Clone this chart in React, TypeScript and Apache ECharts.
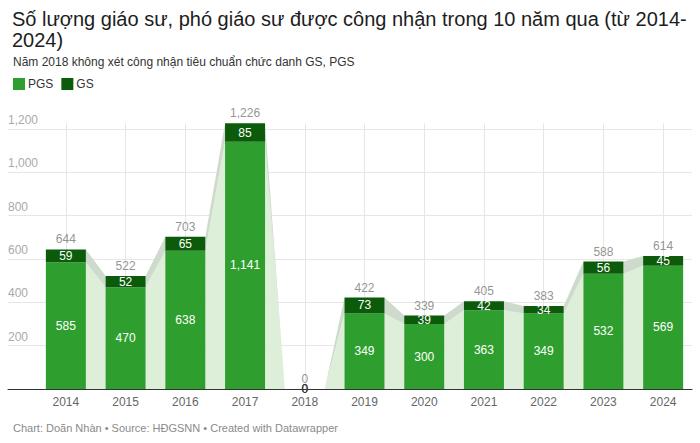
import React, { useEffect, useRef } from "react";
import * as echarts from "echarts";

const years = ["2014", "2015", "2016", "2017", "2018", "2019", "2020", "2021", "2022", "2023", "2024"];
const pgs = [585, 470, 638, 1141, 0, 349, 300, 363, 349, 532, 569];
const gs = [59, 52, 65, 85, 0, 73, 39, 42, 34, 56, 45];
const totals = [644, 522, 703, 1226, 0, 422, 339, 405, 383, 588, 614];
const yTicks = [0, 200, 400, 600, 800, 1000, 1200];

const FONT = "'Liberation Sans', Arial, Helvetica, sans-serif";
const C_PGS = "#2e9f2e";
const C_GS = "#0b5b0b";
const C_AREA = "#ddefd9";
const C_BAND = "#cedbcc";

const fmt = (v: number) => v.toLocaleString("en-US");

export default function App() {
  const ref = useRef<HTMLDivElement>(null);
  useEffect(() => {
    if (!ref.current) return;
    const chart = echarts.init(ref.current, null, { renderer: "svg" });
    const plotBottom = 54;
    const gridTop = 129;
    const scale = (443 - plotBottom - gridTop) / 1200;
    const barTop = 443 - plotBottom - 1226 * scale;
    const half = 20;
    const option: any = {
      animation: false,
      backgroundColor: "#ffffff",
      textStyle: { fontFamily: FONT },
      title: [
        {
          text: "Số lượng giáo sư, phó giáo sư được công nhận trong 10 năm qua (từ 2014-\n2024)",
          left: 7,
          top: 3,
          textStyle: { fontFamily: FONT, fontSize: 20, fontWeight: "normal", color: "#1d1d1d", lineHeight: 21 },
        },
        {
          text: "Năm 2018 không xét công nhận tiêu chuẩn chức danh GS, PGS",
          left: 8,
          top: 51,
          textStyle: { fontFamily: FONT, fontSize: 12, fontWeight: "normal", color: "#333" },
        },
        {
          text: "Chart: Doãn Nhàn • Source: HĐGSNN • Created with Datawrapper",
          left: 8,
          top: 417,
          textStyle: { fontFamily: FONT, fontSize: 11, fontWeight: "normal", color: "#8a8a8a" },
        },
      ],
      legend: {
        left: 8,
        top: 73,
        data: ["PGS", "GS"],
        icon: "rect",
        itemWidth: 12,
        itemHeight: 12,
        itemGap: 8,
        textStyle: { fontFamily: FONT, fontSize: 12, color: "#333", padding: [0, 0, 0, -2] },
      },
      grid: [
        { left: 8, right: 8, top: gridTop, bottom: plotBottom },
        { left: 36, right: 7, top: barTop, bottom: plotBottom },
      ],
      xAxis: [
        {
          gridIndex: 0,
          type: "value",
          min: 0,
          max: 1,
          axisLine: { show: true, lineStyle: { color: "#333", width: 1 } },
          axisTick: { show: false },
          axisLabel: { show: false },
          splitLine: { show: false },
        },
        {
          gridIndex: 1,
          type: "category",
          data: years,
          axisLine: { show: false },
          axisTick: { show: false },
          axisLabel: { color: "#666", fontSize: 12, fontFamily: FONT, margin: 7 },
          splitLine: { show: false },
        },
      ],
      yAxis: [
        {
          gridIndex: 0,
          type: "value",
          min: 0,
          max: 1200,
          interval: 200,
          axisLine: { show: false },
          axisTick: { show: false },
          splitLine: { show: true, lineStyle: { color: "#e6e6e6", width: 1 } },
          axisLabel: {
            inside: true,
            margin: 0,
            verticalAlign: "bottom",
            padding: [0, 0, 3, 0],
            color: "#aaa",
            fontSize: 12,
            fontFamily: FONT,
            formatter: (v: number) => (yTicks.includes(v) && v !== 0 ? fmt(v) : ""),
          },
        },
        {
          gridIndex: 1,
          type: "value",
          min: 0,
          max: 1226,
          show: false,
          splitLine: { show: false },
        },
      ],
      series: [
        {
          type: "line",
          xAxisIndex: 1,
          yAxisIndex: 1,
          z: 0,
          data: years.map(() => null),
          showSymbol: false,
          markLine: {
            silent: true,
            z: 0,
            zlevel: 0,
            symbol: "none",
            label: { show: false },
            lineStyle: { color: "#e6e6e6", type: "solid", width: 1 },
            data: years.map((y) => ({ xAxis: y })),
          },
        },
        {
          type: "custom",
          xAxisIndex: 1,
          yAxisIndex: 1,
          z: 1,
          silent: true,
          encode: { x: 0, y: 1 },
          data: years.slice(0, -1).map((_, i) => [i, pgs[i], totals[i], pgs[i + 1], totals[i + 1]]),
          renderItem: (params: any, api: any) => {
            const i = api.value(0);
            const a0 = api.coord([i, 0]);
            const b0 = api.coord([i + 1, 0]);
            const xr = a0[0] + half;
            const xl = b0[0] - half;
            const yb = a0[1];
            const ya1 = api.coord([i, api.value(1)])[1];
            const ya2 = api.coord([i, api.value(2)])[1];
            const yb1 = api.coord([i + 1, api.value(3)])[1];
            const yb2 = api.coord([i + 1, api.value(4)])[1];
            return {
              type: "group",
              children: [
                {
                  type: "polygon",
                  shape: { points: [[xr, yb], [xr, ya1], [xl, yb1], [xl, yb]] },
                  style: { fill: C_AREA },
                },
                {
                  type: "polygon",
                  shape: { points: [[xr, ya1], [xr, ya2], [xl, yb2], [xl, yb1]] },
                  style: { fill: C_BAND },
                },
              ],
            };
          },
        },
        {
          name: "PGS",
          type: "bar",
          xAxisIndex: 1,
          yAxisIndex: 1,
          stack: "t",
          z: 3,
          barWidth: 40,
          itemStyle: { color: C_PGS },
          label: {
            show: true,
            position: "inside",
            color: "#fff",
            fontSize: 12,
            fontFamily: FONT,
            formatter: (p: any) => fmt(p.value),
          },
          data: pgs.map((v) => (v === 0 ? { value: v, label: { color: "#333" } } : v)),
        },
        {
          name: "GS",
          type: "bar",
          xAxisIndex: 1,
          yAxisIndex: 1,
          stack: "t",
          z: 3,
          barWidth: 40,
          itemStyle: { color: C_GS },
          label: {
            show: true,
            position: "inside",
            color: "#fff",
            fontSize: 12,
            fontFamily: FONT,
            formatter: (p: any) => fmt(p.value),
          },
          data: gs.map((v) => (v === 0 ? { value: v, label: { color: "#333" } } : v)),
        },
        {
          type: "scatter",
          xAxisIndex: 1,
          yAxisIndex: 1,
          z: 4,
          symbolSize: 0,
          silent: true,
          label: {
            show: true,
            position: "top",
            distance: 4,
            color: "#777",
            fontSize: 12,
            fontFamily: FONT,
            formatter: (p: any) => fmt(p.value[1]),
          },
          data: totals.map((v, i) => [years[i], v]),
        },
      ],
    };
    chart.setOption(option);
    return () => chart.dispose();
  }, []);
  return <div ref={ref} style={{ width: 700, height: 443, position: "absolute", left: 0, top: 0 }} />;
}
